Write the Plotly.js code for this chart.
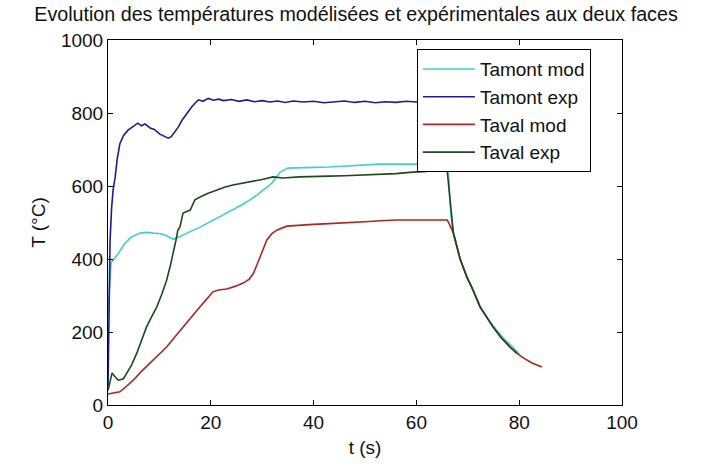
<!DOCTYPE html>
<html>
<head>
<meta charset="utf-8">
<script src="https://cdn.plot.ly/plotly-3.0.1.min.js"></script>
<style>html,body{margin:0;padding:0;background:#fff;}#chart{width:712px;height:466px;}</style>
</head>
<body>
<div id="chart"></div>
<script>
// Tamont mod (cyan)
const tAmontMod = [0, 0.3, 0.6, 1.0, 2.0, 3.3, 4.5, 6.2, 7.5, 8.8, 10, 11.1, 12.0, 12.7, 13.5, 14.6, 16, 18, 19.8, 22, 24, 26, 27.6, 29, 30, 31, 32, 33.5, 35, 36.5, 40, 43, 46, 50, 53, 56, 60, 63, 66.0, 66.3, 66.5, 66.8, 67.2, 68.5, 69.8, 71, 72.4, 74, 75.5, 77, 78.5, 80];
const TAmontMod = [250, 330, 390, 397, 415, 443, 460, 471, 473, 471, 470, 466, 460, 454, 458, 466, 475, 488, 501, 517, 532, 548, 562, 575, 587, 597, 610, 638, 649, 650, 651, 652, 655, 657, 660, 660, 660, 660, 655, 620, 562, 510, 471, 400, 353, 317, 270, 235, 207, 182, 162, 140];
// Tamont exp (blue)
const tAmontExp = [0, 0.2, 0.4, 0.7, 1.0, 1.4, 1.8, 2.3, 3.0, 3.9, 4.8, 5.8, 6.5, 7.2, 8.2, 9.0, 10.1, 11.0, 11.7, 12.3, 13.0, 13.6, 14.4, 15.4, 16.2, 17.0, 17.6, 18.5, 19.5, 20.5, 21.5, 22.5, 24, 25.5, 27, 28.5, 30, 31.5, 33, 34.5, 36, 38, 40, 42, 44, 46, 48, 50, 52, 54, 56, 58, 60, 62, 64];
const TAmontExp = [50, 300, 450, 540, 590, 625, 675, 715, 738, 753, 762, 772, 765, 770, 759, 755, 742, 735, 731, 735, 748, 760, 780, 800, 815, 828, 836, 832, 840, 835, 838, 834, 837, 832, 836, 831, 834, 830, 833, 829, 833, 830, 832, 828, 831, 833, 829, 832, 828, 831, 829, 832, 830, 833, 830];
// Taval mod (red)
const tAvalMod = [0, 1, 2.3, 3.5, 4.9, 6.5, 8.2, 9.8, 11.4, 13, 14.6, 16.2, 17.9, 19.2, 20.4, 21.5, 23.1, 24.7, 26.3, 27.5, 28.3, 29, 29.6, 30.3, 30.9, 31.8, 32.8, 34.8, 37.3, 40, 43, 46.5, 50, 53, 56.2, 60, 63, 66, 66.6, 67.2, 68.5, 69.8, 71, 72.4, 74.9, 76.5, 78.2, 79.5, 80.8, 82.5, 84.4];
const TAvalMod = [30, 33, 36, 50, 68, 92, 115, 137, 159, 186, 214, 240, 269, 290, 310, 315, 318, 325, 334, 345, 361, 385, 407, 430, 452, 468, 479, 490, 493, 495, 497, 499, 502, 505, 507, 507, 507, 507, 490, 471, 400, 351, 315, 268, 214, 184, 159, 142, 129, 115, 104];
// Taval exp (dark green)
const tAvalExp = [0, 0.4, 0.8, 1.2, 2.0, 3.0, 3.7, 4.6, 5.6, 6.5, 7.5, 8.5, 9.5, 10.5, 11.4, 12.1, 12.7, 13.2, 13.6, 14.0, 14.6, 15.3, 16.0, 16.9, 17.9, 19.5, 21.2, 22.8, 24.3, 26, 27.6, 30, 32.1, 34, 37.3, 40, 43, 46, 49.6, 53, 56, 59.3, 62, 64, 65.5, 66.0, 66.5, 67.2, 68.5, 69.8, 71, 72.4, 74.9, 76.5, 78.2, 79.5];
const TAvalExp = [40, 68, 88, 80, 68, 72, 88, 110, 142, 178, 214, 242, 269, 305, 342, 380, 416, 450, 479, 488, 526, 530, 534, 562, 570, 580, 589, 597, 603, 607, 611, 618, 625, 622, 625, 625, 627, 628, 630, 632, 634, 638, 640, 644, 644, 640, 560, 471, 400, 351, 315, 268, 214, 184, 159, 142];

const names = ["Tamont mod", "Tamont exp", "Taval mod", "Taval exp"];
const xTickVals = [0, 20, 40, 60, 80, 100];
const yTickVals = [0, 200, 400, 600, 800, 1000];

const FONT = "Liberation Sans, Arial, sans-serif";
const mk = (x, y, name, color) => ({x, y, name, type: "scatter", mode: "lines", line: {color, width: 1.6}});
const data = [
  mk(tAmontMod, TAmontMod, names[0], "#40cfcf"),
  mk(tAmontExp, TAmontExp, names[1], "#1c1c9a"),
  mk(tAvalMod, TAvalMod, names[2], "#b02424"),
  mk(tAvalExp, TAvalExp, names[3], "#1c4a1c")
];
const axisCommon = {
  showline: true, linecolor: "#000", linewidth: 1, mirror: "ticks",
  ticks: "inside", ticklen: 5, tickcolor: "#000", showgrid: false, zeroline: false,
  tickfont: {family: FONT, size: 19, color: "#111"}
};
const layout = {
  width: 712, height: 466,
  margin: {l: 108, r: 90, t: 40, b: 61},
  paper_bgcolor: "#fff", plot_bgcolor: "#fff",
  font: {family: FONT, color: "#111"},
  title: {text: "Evolution des températures modélisées et expérimentales aux deux faces",
          font: {family: FONT, size: 19.7, color: "#111"}, xref: "container", x: 0.5, y: 0.97, yanchor: "middle"},
  xaxis: Object.assign({}, axisCommon, {range: [0, 100], tickvals: xTickVals,
          title: {text: "t (s)", font: {family: FONT, size: 19, color: "#111"}, standoff: 8}}),
  yaxis: Object.assign({}, axisCommon, {range: [0, 1000], tickvals: yTickVals,
          title: {text: "T (°C)", font: {family: FONT, size: 19, color: "#111"}, standoff: 10}}),
  legend: {x: 0.601, y: 0.975, xanchor: "left", yanchor: "top", bgcolor: "#fff",
           bordercolor: "#000", borderwidth: 1, font: {family: FONT, size: 19, color: "#111"},
           itemwidth: 52, tracegroupgap: 0}
};
Plotly.newPlot("chart", data, layout, {displayModeBar: false, staticPlot: true});
</script>
</body>
</html>
